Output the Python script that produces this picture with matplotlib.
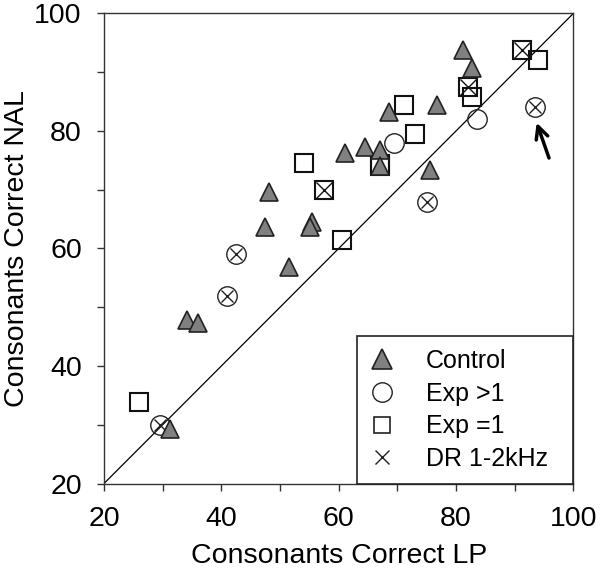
import matplotlib
matplotlib.use("Agg")
import matplotlib.pyplot as plt
from matplotlib.lines import Line2D
from matplotlib.ticker import MultipleLocator

plt.rcParams['font.family'] = ['Liberation Sans', 'DejaVu Sans']

# Control group (filled triangles)
control_lp = [31.2, 34.1, 36.1, 47.5, 48.1, 51.6, 55.4, 55.1, 61.1, 64.5, 67.0, 67.0,
              68.5, 75.6, 76.7, 81.2, 82.7]
control_nal = [29.3, 47.8, 47.3, 63.7, 69.6, 56.9, 64.5, 63.6, 76.2, 77.3, 76.7, 74.0,
               83.3, 73.3, 84.4, 93.8, 90.7]

# Exp >1 (open circles), dr = dead region 1-2 kHz
exp_gt1_lp = [29.5, 41.0, 42.5, 69.5, 75.1, 83.5, 93.5]
exp_gt1_nal = [29.9, 51.9, 59.0, 78.0, 67.9, 82.0, 84.0]
exp_gt1_dr = [True, True, True, False, True, False, True]

# Exp =1 (open squares)
exp_eq1_lp = [26.0, 54.1, 57.5, 60.5, 67.0, 67.0, 71.1, 73.0, 82.1, 82.7, 91.2, 94.0]
exp_eq1_nal = [33.8, 74.5, 69.9, 61.5, 74.4, 74.1, 84.4, 79.5, 87.5, 85.8, 93.8, 92.1]
exp_eq1_dr = [False, False, True, False, False, False, False, False, True, False, True, False]

# arrow pointing at one listener
arrow_tip = (93.75, 81.4)
arrow_tail = (95.85, 75.4)

fig = plt.figure(figsize=(6.01, 5.84), dpi=100)
ax = fig.add_axes([0.173, 0.172, 0.781, 0.805])

ax.plot([20, 100], [20, 100], color='black', lw=0.9, zorder=1)

ax.plot(exp_gt1_lp, exp_gt1_nal, 'o', ms=14, mfc='none', mec='#222222', mew=1.0, zorder=2)
ax.plot(exp_eq1_lp, exp_eq1_nal, 's', ms=12.5, mfc='none', mec='#111111', mew=1.5, zorder=2)
ax.plot([x for x, d in zip(exp_gt1_lp, exp_gt1_dr) if d],
        [y for y, d in zip(exp_gt1_nal, exp_gt1_dr) if d],
        'x', ms=9, mec='#222222', mew=1.0, zorder=3)
ax.plot([x for x, d in zip(exp_eq1_lp, exp_eq1_dr) if d],
        [y for y, d in zip(exp_eq1_nal, exp_eq1_dr) if d],
        'x', ms=11, mec='#111111', mew=1.0, zorder=3)
ax.plot(control_lp, control_nal, '^', ms=13, mfc='#808080', mec='#222222', mew=1.2, zorder=4)

ax.annotate('', xy=arrow_tip, xytext=arrow_tail,
            arrowprops=dict(arrowstyle='->', lw=2.5, color='black', mutation_scale=22,
                            shrinkA=0, shrinkB=0))

ax.set_xlim(20, 100)
ax.set_ylim(20, 100)
ax.xaxis.set_major_locator(MultipleLocator(20))
ax.yaxis.set_major_locator(MultipleLocator(20))
ax.xaxis.set_minor_locator(MultipleLocator(10))
ax.yaxis.set_minor_locator(MultipleLocator(10))
ax.tick_params(which='both', direction='out', length=5, width=1, color='#333333')
ax.tick_params(axis='x', labelsize=20.5, pad=11)
ax.tick_params(axis='y', labelsize=20.5, pad=11)
for s in ax.spines.values():
    s.set_linewidth(1.0)
    s.set_color('#333333')

ax.set_xlabel('Consonants Correct LP', fontsize=20.5, labelpad=8)
ax.set_ylabel('Consonants Correct NAL', fontsize=20.5, labelpad=3)

handles = [
    Line2D([], [], marker='^', ls='none', ms=14, mfc='#808080', mec='#222222', mew=1.2),
    Line2D([], [], marker='o', ls='none', ms=14, mfc='none', mec='#222222', mew=1.0),
    Line2D([], [], marker='s', ls='none', ms=12, mfc='none', mec='#222222', mew=1.2),
    Line2D([], [], marker='x', ls='none', ms=10, mec='#222222', mew=1.0),
]
labels = ['Control', 'Exp >1', 'Exp =1', 'DR 1-2kHz']
leg = ax.legend(handles, labels, loc='lower left', bbox_to_anchor=(0.539, 0.0, 0.461, 0.3),
                mode='expand', borderaxespad=0, fancybox=False, framealpha=1,
                edgecolor='#222222', fontsize=18, handlelength=1.0, handletextpad=1.25,
                labelspacing=0.35, borderpad=0.5)
leg.get_frame().set_linewidth(1.2)

fig.savefig('out.png', dpi=100)
